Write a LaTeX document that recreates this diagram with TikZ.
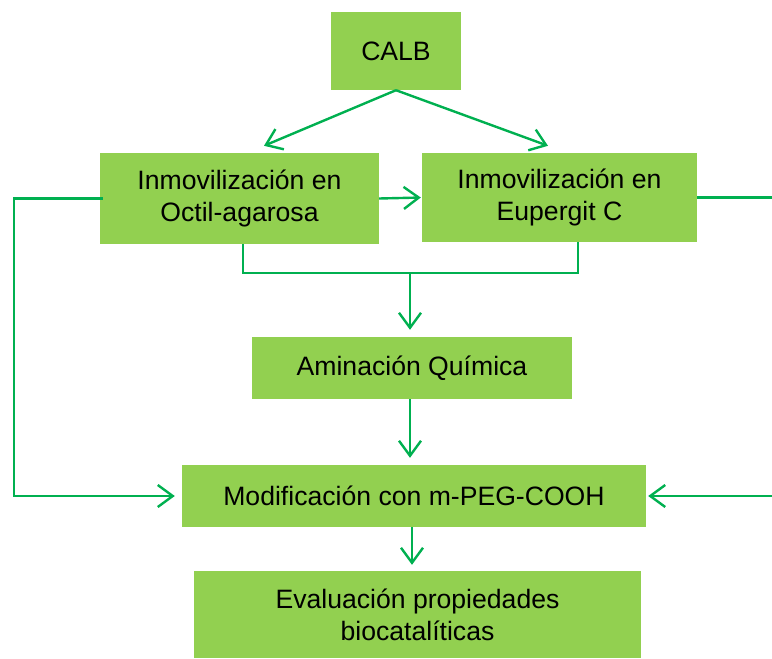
\documentclass[tikz,border=0pt]{standalone}
\usepackage{fontspec}
\setmainfont{Liberation Sans}
\usetikzlibrary{arrows.meta}
\definecolor{boxgreen}{HTML}{92D050}
\definecolor{linegreen}{HTML}{00B050}
\tikzset{
  box/.style={fill=boxgreen,align=center,inner sep=0pt,
    font=\fontsize{26.6}{32}\selectfont},
  link/.style={draw=linegreen,line width=2.4pt},
  arr/.style={link,-{Straight Barb[length=15pt,width=22pt,line width=2.4pt]}}
}
\begin{document}
\begin{tikzpicture}[x=1pt,y=-1pt]
  \useasboundingbox (0,0) rectangle (772,659);
  % boxes
  \node[box,minimum width=130pt,minimum height=78pt] (calb) at (396,51) {CALB};
  \node[box,minimum width=279pt,minimum height=91pt] (octil) at (239.5,198.5) {Inmovilización en\\Octil-agarosa};
  \node[box,minimum width=275pt,minimum height=89pt] (eupergit) at (559.5,197.5) {Inmovilización en\\Eupergit C};
  \node[box,minimum width=320pt,minimum height=62pt] (amin) at (412,368) {Aminación Química};
  \node[box,minimum width=464pt,minimum height=62pt] (modif) at (414,496) {Modificación con m-PEG-COOH};
  \node[box,minimum width=447pt,minimum height=87pt] (eval) at (417.5,614.5) {Evaluación propiedades\\biocatalíticas};
  \coordinate (redge) at (772,199);
  \coordinate (merge) at (410,273);

  % connectors
  \draw[arr] (calb.south) -- ([xshift=24.5pt,yshift=7pt]octil.north);
  \draw[arr] (calb.south) -- ([xshift=-11.5pt,yshift=7pt]eupergit.north);
  \draw[arr,shorten >=1pt] (octil.east) -- (eupergit.west);
  \draw[arr,shorten >=7pt] ([xshift=3pt]octil.west) -- ++(-89,0) |- (modif.west);
  \draw[link] (eupergit.east) -- (eupergit.east -| redge);
  \draw[arr,shorten >=2pt] (modif.east -| redge) -- (modif.east);
  \draw[link] ([xshift=3.5pt]octil.south) |- (merge) -| ([xshift=18.5pt]eupergit.south);
  \draw[arr,shorten >=7pt] (merge) -- (merge |- amin.north);
  \draw[arr,shorten >=7pt] (amin.south -| merge) -- (merge |- modif.north);
  \draw[arr,shorten >=6pt] ([xshift=-2pt]modif.south) -- ([xshift=-2pt]modif.south |- eval.north);
\end{tikzpicture}
\end{document}
